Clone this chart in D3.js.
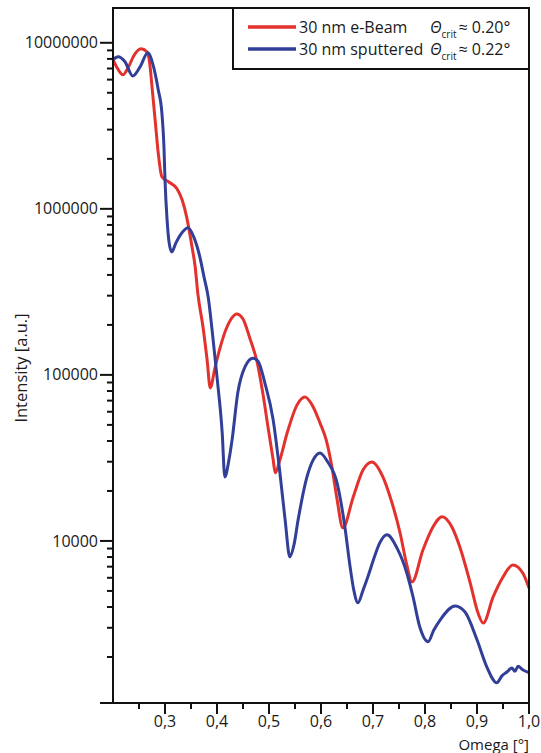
<!DOCTYPE html>
<html>
<head>
<meta charset="utf-8">
<script src="https://cdn.jsdelivr.net/npm/d3@7"></script>
<style>
  body { margin: 0; background: #fff; }
  svg text { font-family: "Open Sans", sans-serif; fill: #1a1a1a; }
</style>
</head>
<body>
<div id="chart"></div>
<script>

var width = 541;
var height = 753;

// 30 nm e-Beam
var omegaRed = [0.200, 0.208, 0.219, 0.229, 0.240, 0.254, 0.265, 0.271, 0.275, 0.281,
  0.287, 0.294, 0.306, 0.323, 0.333, 0.342, 0.352, 0.358, 0.363, 0.373,
  0.381, 0.387, 0.396, 0.406, 0.417, 0.427, 0.438, 0.450, 0.463, 0.477, 0.488,
  0.498, 0.508, 0.512, 0.521, 0.535, 0.554, 0.569, 0.585, 0.598, 0.610,
  0.621, 0.631, 0.642, 0.662, 0.681, 0.698, 0.719, 0.733, 0.752, 0.765,
  0.775, 0.796, 0.815, 0.833, 0.852, 0.867, 0.887, 0.902, 0.912, 0.931,
  0.950, 0.969, 0.988, 1.000];
var intensityRed = [7.91e6, 7.06e6, 6.41e6, 7.06e6, 8.35e6, 9.2e6, 8.83e6, 7.36e6, 5.43e6, 3.44e6,
  2.17e6, 1.56e6, 1.46e6, 1.32e6, 1.13e6, 8.83e5, 5.9e5, 4.48e5, 3.12e5, 1.95e5,
  1.23e5, 8.35e4, 1.10e5, 1.46e5, 1.87e5, 2.17e5, 2.33e5, 2.17e5, 1.67e5, 1.2e5, 7.8e4,
  4.87e4, 3.08e4, 2.57e4, 3.08e4, 4.48e4, 6.6e4, 7.36e4, 6.41e4, 5.14e4, 4.06e4,
  2.79e4, 1.77e4, 1.2e4, 1.84e4, 2.68e4, 2.99e4, 2.43e4, 1.84e4, 1.12e4, 7.17e3,
  5.66e3, 8.83e3, 1.21e4, 1.4e4, 1.21e4, 9.2e3, 5.58e3, 3.68e3, 3.2e3, 4.6e3,
  6.07e3, 7.17e3, 6.41e3, 5.21e3];

// 30 nm sputtered
var omegaBlue = [0.200, 0.210, 0.223, 0.238, 0.252, 0.267, 0.277, 0.287, 0.294, 0.298,
  0.300, 0.304, 0.308, 0.313, 0.321, 0.331, 0.344, 0.356, 0.367, 0.375,
  0.383, 0.392, 0.400, 0.410, 0.415, 0.423, 0.429, 0.440, 0.454, 0.469,
  0.479, 0.492, 0.508, 0.521, 0.531, 0.540, 0.548, 0.556, 0.573, 0.585,
  0.598, 0.613, 0.631, 0.646, 0.656, 0.663, 0.671, 0.681, 0.690, 0.704,
  0.713, 0.727, 0.746, 0.765, 0.777, 0.790, 0.806, 0.817, 0.829, 0.858,
  0.877, 0.900, 0.919, 0.938, 0.948, 0.958, 0.967, 0.973, 0.979, 0.987,
  1.000];
var intensityBlue = [7.91e6, 8.24e6, 7.69e6, 6.32e6, 7.16e6, 8.71e6, 7.36e6, 5.21e6, 3.78e6, 2.36e6,
  1.5e6, 8.59e5, 6.24e5, 5.5e5, 6.24e5, 7.06e5, 7.69e5, 6.69e5, 5.14e5, 3.89e5,
  2.95e5, 1.69e5, 9.73e4, 4.48e4, 2.43e4, 3.08e4, 4.06e4, 7.8e4, 1.12e5, 1.26e5,
  1.21e5, 8.95e4, 5.36e4, 2.57e4, 1.34e4, 8.02e3, 9.46e3, 1.34e4, 2.43e4, 3.08e4,
  3.39e4, 2.99e4, 2.23e4, 1.21e4, 6.97e3, 5.07e3, 4.24e3, 5.07e3, 6.07e3, 8.24e3,
  9.73e3, 1.09e4, 9.08e3, 6.41e3, 4.6e3, 3.03e3, 2.47e3, 2.91e3, 3.34e3, 4.06e3,
  3.73e3, 2.54e3, 1.74e3, 1.4e3, 1.54e3, 1.63e3, 1.72e3, 1.64e3, 1.76e3, 1.68e3,
  1.61e3];

var xTicks = [0.3, 0.4, 0.5, 0.6, 0.7, 0.8, 0.9, 1.0];
var xMinorTicks = [0.25, 0.35, 0.45, 0.55, 0.65, 0.75, 0.85, 0.95];
var yTicks = [1e4, 1e5, 1e6, 1e7];

var seriesNames = ["30 nm e-Beam", "30 nm sputtered"];
var critAngles = ["0.20°", "0.22°"];
var colors = ["#e3322e", "#323f98"];

var plotLeft = 113, plotRight = 529, plotTop = 8, plotBottom = 703;

var x = d3.scaleLinear().domain([0.2, 1.0]).range([plotLeft, plotRight]);
var y = d3.scaleLog().domain([1057, 1.62e7]).range([plotBottom, plotTop]);

var svg = d3.select("#chart")
			.append("svg")
			.attr("width", width)
			.attr("height", height);

var series = [
	omegaRed.map(function(d, i) { return [d, intensityRed[i]]; }),
	omegaBlue.map(function(d, i) { return [d, intensityBlue[i]]; })
];

var line = d3.line()
			 .x(function(d) { return x(d[0]); })
			 .y(function(d) { return y(d[1]); })
			 .curve(d3.curveMonotoneX);

svg.selectAll("path.curve")
   .data(series).enter()
   .append("path")
   .attr("class", "curve")
   .attr("d", line)
   .attr("fill", "none")
   .attr("stroke", function(d, i) { return colors[i]; })
   .attr("stroke-width", 3)
   .attr("stroke-linejoin", "round");

// y axis with log minor ticks
var yMinor = y.ticks().filter(function(t) { return yTicks.indexOf(t) < 0; });

var yAxis = svg.append("g").attr("transform", "translate(" + plotLeft + ",0)");
yAxis.selectAll("line.minor")
	 .data(yMinor).enter()
	 .append("line")
	 .attr("x1", -6).attr("x2", 0)
	 .attr("y1", function(d) { return y(d); })
	 .attr("y2", function(d) { return y(d); })
	 .attr("stroke", "#111").attr("stroke-width", 2);
yAxis.selectAll("line.major")
	 .data(yTicks).enter()
	 .append("line")
	 .attr("x1", -13).attr("x2", 0)
	 .attr("y1", function(d) { return y(d); })
	 .attr("y2", function(d) { return y(d); })
	 .attr("stroke", "#111").attr("stroke-width", 2);
yAxis.selectAll("text")
	 .data(yTicks).enter()
	 .append("text")
	 .attr("x", -15)
	 .attr("y", function(d) { return y(d); })
	 .attr("dy", "0.35em")
	 .attr("text-anchor", "end")
	 .style("font-size", "16px")
	 .text(function(d) { return d3.format("d")(d); });

// x axis
var xAxis = svg.append("g").attr("transform", "translate(0," + plotBottom + ")");
xAxis.selectAll("line.minor")
	 .data(xMinorTicks).enter()
	 .append("line")
	 .attr("x1", function(d) { return x(d); })
	 .attr("x2", function(d) { return x(d); })
	 .attr("y1", 0).attr("y2", 6)
	 .attr("stroke", "#111").attr("stroke-width", 2);
xAxis.selectAll("line.major")
	 .data(xTicks).enter()
	 .append("line")
	 .attr("x1", function(d) { return x(d); })
	 .attr("x2", function(d) { return x(d); })
	 .attr("y1", 0).attr("y2", 11)
	 .attr("stroke", "#111").attr("stroke-width", 2);
xAxis.selectAll("text")
	 .data(xTicks).enter()
	 .append("text")
	 .attr("x", function(d) { return x(d); })
	 .attr("y", 24)
	 .attr("text-anchor", "middle")
	 .style("font-size", "16px")
	 .text(function(d) { return d3.format(".1f")(d).replace(".", ","); });

// frame
svg.append("path")
   .attr("d", "M" + (plotLeft - 13) + "," + plotBottom + "H" + plotRight + "V" + plotTop + "H" + plotLeft + "V" + plotBottom)
   .attr("fill", "none")
   .attr("stroke", "#111")
   .attr("stroke-width", 2);

// axis titles
svg.append("text")
   .attr("x", plotRight)
   .attr("y", 750)
   .attr("text-anchor", "end")
   .style("font-size", "15px")
   .text("Omega [°]");

svg.append("text")
   .attr("transform", "translate(27,368) rotate(-90)")
   .attr("text-anchor", "middle")
   .style("font-size", "16.5px")
   .text("Intensity [a.u.]");

// legend
var legend = svg.append("g");
legend.append("rect")
	  .attr("x", 233).attr("y", plotTop)
	  .attr("width", plotRight - 233).attr("height", 61)
	  .attr("fill", "#fff")
	  .attr("stroke", "#111")
	  .attr("stroke-width", 2);

var rows = legend.selectAll("g.row")
				 .data(seriesNames).enter()
				 .append("g")
				 .attr("transform", function(d, i) { return "translate(0," + (27 + i * 22) + ")"; });

rows.append("line")
	.attr("x1", 248).attr("x2", 296)
	.attr("stroke", function(d, i) { return colors[i]; })
	.attr("stroke-width", 3.5);

rows.append("text")
	.attr("x", 299).attr("y", 0)
	.attr("dy", "0.35em")
	.style("font-size", "16px")
	.text(function(d) { return d; });

var crit = rows.append("text")
			   .attr("x", 430).attr("y", 0)
			   .attr("dy", "0.35em")
			   .style("font-size", "16px");
crit.append("tspan").style("font-style", "italic").text("Θ");
crit.append("tspan").attr("dy", 5).style("font-size", "10px").text("crit");
crit.append("tspan").attr("dy", -5).attr("dx", 2).text("≈ ");
crit.append("tspan").text(function(d, i) { return critAngles[i]; });

</script>
</body>
</html>
